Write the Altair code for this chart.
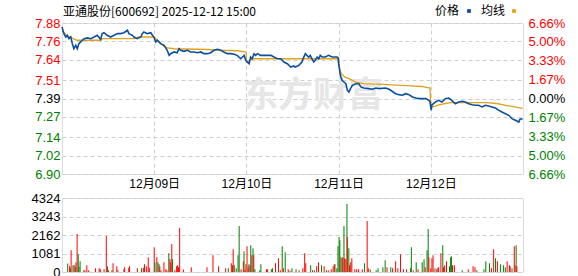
import altair as alt
import pandas as pd

title_text = "亚通股份[600692] 2025-12-12 15:00"
legend_labels = ["价格", "均线"]
watermark = "东方财富"
day_labels = ["12月08日", "12月09日", "12月10日", "12月11日", "12月12日"]
minutes_per_day = 241
prev_close = 7.39
price_ticks = [6.90, 7.02, 7.14, 7.27, 7.39, 7.51, 7.64, 7.76, 7.88]
pct_ticks = [-6.66, -5.00, -3.33, -1.67, 0.00, 1.67, 3.33, 5.00, 6.66]
vol_ticks = [0, 1081, 2162, 3243, 4324]

# minute index (0..1204 over five sessions) and price
price_t = [0, 5, 10, 14, 18, 23, 27, 31, 36, 40, 44, 49, 53, 58, 66, 75, 84, 92, 101, 105, 110, 118, 127, 136, 145, 153, 162, 171, 175, 184, 188, 197, 206, 210, 214, 223, 232, 236, 240,
           245, 249, 258, 267, 275, 280, 284, 293, 301, 306, 310, 319, 328, 336, 345, 354, 363, 371, 380, 389, 397, 406, 415, 423, 432, 441, 450, 458, 467, 476, 480,
           484, 489, 493, 497, 502, 506, 511, 519, 528, 537, 546, 554, 563, 572, 580, 589, 598, 606, 610, 619, 627, 632, 636, 640, 645, 649, 653, 658, 662, 667, 671, 675, 680, 688, 697, 706, 719, 722,
           723, 727, 729, 732, 737, 742, 746, 750, 754, 759, 768, 776, 781, 789, 802, 811, 820, 829, 846, 855, 863, 872, 881, 890, 898, 907, 916, 925, 933, 942, 951, 959, 962,
           965, 967, 976, 985, 993, 1002, 1011, 1019, 1028, 1037, 1046, 1054, 1063, 1072, 1080, 1089, 1098, 1107, 1115, 1124, 1133, 1142, 1150, 1159, 1168, 1176, 1185, 1194, 1197, 1204]
price_v = [7.854, 7.811, 7.789, 7.800, 7.778, 7.789, 7.746, 7.713, 7.735, 7.713, 7.746, 7.757, 7.768, 7.778, 7.783, 7.778, 7.789, 7.800, 7.774, 7.811, 7.817, 7.800, 7.789, 7.800, 7.811, 7.811, 7.817, 7.833, 7.811, 7.800, 7.789, 7.778, 7.789, 7.811, 7.822, 7.811, 7.817, 7.802, 7.789,
           7.757, 7.768, 7.746, 7.735, 7.703, 7.670, 7.681, 7.692, 7.687, 7.713, 7.703, 7.696, 7.703, 7.692, 7.692, 7.687, 7.692, 7.681, 7.681, 7.687, 7.703, 7.709, 7.703, 7.692, 7.681, 7.681, 7.677, 7.670, 7.648, 7.670, 7.640,
           7.627, 7.616, 7.659, 7.648, 7.681, 7.670, 7.681, 7.670, 7.670, 7.670, 7.670, 7.659, 7.648, 7.648, 7.627, 7.616, 7.594, 7.601, 7.594, 7.605, 7.627, 7.659, 7.681, 7.670, 7.659, 7.670, 7.648, 7.627, 7.638, 7.659, 7.648, 7.670, 7.659, 7.659, 7.670, 7.659, 7.659, 7.653,
           7.616, 7.551, 7.530, 7.508, 7.497, 7.486, 7.443, 7.432, 7.454, 7.476, 7.486, 7.486, 7.465, 7.458, 7.454, 7.450, 7.458, 7.454, 7.458, 7.450, 7.437, 7.421, 7.415, 7.411, 7.421, 7.415, 7.400, 7.393, 7.389, 7.389, 7.389, 7.378, 7.367,
           7.315, 7.348, 7.367, 7.378, 7.367, 7.389, 7.393, 7.378, 7.356, 7.367, 7.372, 7.367, 7.356, 7.350, 7.346, 7.346, 7.335, 7.346, 7.341, 7.335, 7.328, 7.313, 7.302, 7.291, 7.281, 7.259, 7.249, 7.237, 7.255, 7.259]

avg_t = [0, 12, 23, 31, 40, 101, 105, 190, 200, 240,
         241, 249, 258, 267, 275, 293, 380, 415, 460, 481,
         482, 500, 722,
         723, 726, 730, 739, 750, 759, 768, 789, 850, 900, 940, 962,
         964, 976, 985, 1000, 1015, 1110, 1140, 1160, 1204]
avg_v = [7.833, 7.800, 7.789, 7.775, 7.768, 7.768, 7.778, 7.778, 7.789, 7.789,
         7.789, 7.768, 7.745, 7.728, 7.718, 7.713, 7.708, 7.703, 7.700, 7.692,
         7.627, 7.648, 7.648,
         7.640, 7.580, 7.551, 7.530, 7.519, 7.508, 7.497, 7.486, 7.480, 7.474, 7.468, 7.458,
         7.335, 7.340, 7.348, 7.356, 7.363, 7.363, 7.356, 7.346, 7.326]

vol_t = [2, 7, 9, 11, 16, 19, 22, 24, 27, 30, 32, 35, 45, 48, 53, 58, 76, 86, 89, 99, 105, 108, 111, 120, 123, 133, 136, 152, 154, 165, 167, 188, 199, 204, 207, 212, 217, 220,
         233, 235, 240, 243, 246, 248, 251, 259, 264, 267, 272, 275, 277, 280, 282, 288, 293, 295, 298, 301, 311, 332, 374, 390, 405, 424, 431, 439, 442, 444, 447, 452, 457, 460,
         465, 471, 473, 476, 478, 481, 484, 486, 489, 491, 494, 497, 499, 502, 515, 518, 533, 536, 546, 549, 557, 565, 570, 575, 578, 583, 591, 596,
         601, 612, 620, 630, 635, 638, 651, 656, 661, 667, 672, 680, 687, 693, 698, 706, 711, 714, 716, 721, 724, 727, 729, 732, 735, 737, 740, 742, 745, 748, 749, 753, 755, 758, 761,
         769, 774, 779, 789, 795, 802, 805, 810, 826, 831, 844, 850, 855, 865, 870, 878, 884, 891, 899, 907, 918, 920, 925, 933, 938, 949, 954, 957, 962,
         965, 967, 972, 975, 978, 983, 988, 991, 993, 999, 1004, 1006, 1009, 1014, 1022, 1025, 1027, 1030, 1035, 1056, 1072, 1085, 1090, 1095,
         1114, 1119, 1129, 1134, 1140, 1145, 1150, 1158, 1166, 1171, 1176, 1182, 1184, 1189, 1195, 1197, 1200, 1202]
vol_v = [490, 350, 220, 1270, 390, 410, 300, 550, 2215, 1040, 300, 630, 100, 100, 390, 100, 215, 215, 160, 160, 2100, 330, 100, 100, 510, 330, 100, 160, 275, 235, 330, 215, 215, 255, 450, 330, 860, 255,
         1450, 550, 860, 570, 450, 330, 100, 570, 160, 100, 1100, 760, 570, 1630, 745, 100, 330, 390, 275, 2570, 140, 275, 275, 980, 330, 215, 215, 510, 390, 1330, 390, 215, 980, 2685,
         160, 627, 1215, 100, 450, 1510, 275, 450, 390, 1570, 980, 1390, 980, 160, 100, 450, 160, 160, 160, 215, 510, 800, 100, 1510, 215, 1160, 160, 80,
         215, 160, 100, 215, 1100, 510, 390, 100, 100, 330, 570, 390, 330, 100, 100, 160, 330, 450, 450, 215, 1510, 2040, 1860, 860, 800, 860, 2685, 800, 745, 3980, 2040, 1390, 390, 570, 800,
         160, 160, 160, 160, 510, 2980, 215, 160, 100, 215, 275, 690, 275, 275, 215, 627, 215, 1040, 160, 160, 215, 1450, 100, 570, 160, 570, 745, 275, 1270,
         2510, 860, 215, 800, 980, 215, 160, 255, 275, 1100, 1570, 275, 390, 627, 330, 860, 920, 390, 390, 100, 160, 330, 275, 100,
         160, 627, 510, 215, 1330, 800, 627, 450, 390, 275, 627, 390, 330, 215, 1510, 390, 1570, 330]
vol_c = ["g", "r", "g", "r", "g", "r", "g", "r", "r", "g", "g", "g", "r", "r", "r", "r", "r", "r", "r", "r", "r", "g", "r", "g", "r", "r", "r", "r", "r", "r", "r", "r", "g", "r", "r", "r", "r", "r",
         "r", "g", "r", "g", "g", "r", "r", "r", "r", "r", "g", "r", "r", "r", "g", "r", "r", "r", "r", "r", "r", "r", "r", "r", "r", "r", "g", "r", "g", "r", "r", "g", "g", "g",
         "r", "r", "g", "r", "r", "r", "r", "g", "r", "g", "r", "g", "r", "g", "g", "g", "r", "r", "g", "g", "r", "r", "r", "g", "r", "g", "r", "r",
         "g", "g", "r", "r", "r", "r", "g", "r", "g", "r", "r", "g", "r", "g", "r", "r", "r", "g", "r", "g", "g", "g", "g", "r", "g", "r", "g", "r", "r", "g", "r", "g", "r", "r", "r",
         "r", "r", "r", "r", "g", "r", "r", "g", "g", "g", "g", "g", "r", "g", "r", "r", "r", "r", "r", "r", "g", "g", "r", "g", "r", "g", "g", "r", "g",
         "g", "r", "r", "r", "r", "g", "r", "r", "r", "r", "g", "r", "r", "r", "g", "g", "g", "r", "r", "g", "r", "r", "r", "g",
         "g", "g", "g", "r", "r", "g", "r", "g", "g", "g", "r", "r", "r", "g", "r", "r", "g", "r"]

FONT = "Liberation Sans, Noto Sans CJK SC"
CJK = "Noto Sans CJK SC"
RED, GREEN, BLUE, GOLD = "#ff0000", "#008000", "#0b4f9f", "#e0a11b"
GRID = "#cfcfcf"

price_df = pd.DataFrame({"t": price_t, "v": price_v})
avg_df = pd.DataFrame({"t": avg_t, "v": avg_v})
vol_df = pd.DataFrame({"t": vol_t, "v": vol_v, "c": vol_c})

day_expr = "[" + ",".join("'%s'" % d for d in day_labels) + "][round(datum.value/%d)]" % minutes_per_day
boundaries = [minutes_per_day * i for i in range(1, len(day_labels))]
x_scale = alt.Scale(domain=[0, minutes_per_day * len(day_labels)], nice=False, zero=False)

price_color = {"condition": [{"test": "datum.value > %f" % (prev_close + 0.005), "value": RED},
                             {"test": "datum.value < %f" % (prev_close - 0.005), "value": GREEN}],
               "value": "#000000"}
pct_color = {"condition": [{"test": "datum.value > 0.001", "value": RED},
                           {"test": "datum.value < -0.001", "value": GREEN}],
             "value": "#000000"}

x_main = alt.X("t:Q", scale=x_scale,
               axis=alt.Axis(values=boundaries, labelExpr=day_expr, grid=True, gridDash=[4, 3], gridColor=GRID,
                             ticks=False, domain=False, title=None, labelFontSize=12, labelPadding=4,
                             labelColor="#000000", labelFont=FONT))
y_main = alt.Y("v:Q", scale=alt.Scale(domain=[6.90, 7.88], nice=False, zero=False),
               axis=alt.Axis(values=price_ticks, format=".2f", grid=True, gridDash=[4, 3], gridColor=GRID,
                             ticks=False, domain=False, title=None, labelFontSize=13, labelPadding=2,
                             labelColor=price_color, labelFont=FONT))


def text_item(txt, x, y, size, color="#000000", weight="normal"):
    return alt.Chart(pd.DataFrame({"w": [txt]})).mark_text(
        fontSize=size, fontWeight=weight, color=color, align="left", baseline="middle", font=CJK
    ).encode(x=alt.value(x), y=alt.value(y), text="w:N")


def sym_item(color, x, y):
    return alt.Chart(pd.DataFrame({"w": [1]})).mark_point(
        shape="square", filled=True, size=14, opacity=1, color=color
    ).encode(x=alt.value(x), y=alt.value(y))


wm = text_item(watermark, 181, 73, 35, "#e6e6e6", "bold")

avg_line = alt.Chart(avg_df).mark_line(color=GOLD, strokeWidth=1.3).encode(x=x_main, y=y_main)
price_line = alt.Chart(price_df).mark_line(color=BLUE, strokeWidth=1.6).encode(x=x_main, y=y_main)
lines = alt.layer(avg_line, price_line)

pct_layer = alt.Chart(price_df).transform_calculate(
    pct="(datum.v / %f - 1) * 100" % prev_close
).mark_line(opacity=0).encode(
    x=x_main,
    y=alt.Y("pct:Q", scale=alt.Scale(domain=[-6.66, 6.66], nice=False, zero=False),
            axis=alt.Axis(orient="right", values=pct_ticks, labelExpr="format(abs(datum.value), '.2f') + '%'",
                          grid=False, ticks=False, domain=False, title=None, labelFontSize=13, labelPadding=5,
                          labelColor=pct_color, labelFont=FONT))
)

title_mark = text_item(title_text, 1, -11, 12)
leg1 = text_item(legend_labels[0], 373, -12, 12)
leg2 = text_item(legend_labels[1], 419, -12, 12)
sym1 = sym_item(BLUE, 407, -12)
sym2 = sym_item(GOLD, 452, -12)

main = alt.layer(wm, lines, pct_layer, title_mark, leg1, leg2, sym1, sym2).resolve_scale(
    y="independent").properties(width=461, height=151)

vol = alt.Chart(vol_df).mark_bar(size=1).encode(
    x=alt.X("t:Q", scale=x_scale, axis=None),
    y=alt.Y("v:Q", scale=alt.Scale(domain=[0, 4324], nice=False),
            axis=alt.Axis(values=vol_ticks, format="d", grid=True, gridDash=[4, 3], gridColor=GRID, ticks=False,
                          domain=False, title=None, labelFontSize=13, labelPadding=2, labelColor="#000000",
                          labelFont=FONT)),
    color=alt.Color("c:N", scale=alt.Scale(domain=["r", "g"], range=[RED, GREEN]), legend=None)
).properties(width=461, height=74)

chart = alt.vconcat(main, vol, spacing=24).properties(
    bounds="flush", padding={"left": 30, "top": 4, "right": 0, "bottom": 0}
).configure_view(stroke="#999999", strokeWidth=1.5).configure(background="white")

chart.save("out.html", embed_options={"renderer": "svg", "actions": False})
